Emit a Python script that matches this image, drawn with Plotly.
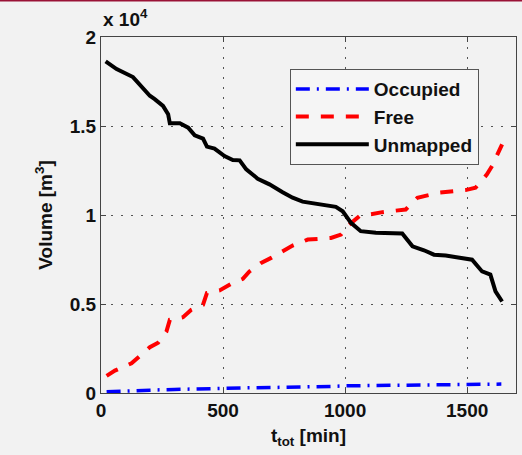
import plotly.graph_objects as go

# Elapsed time [min] and volumes [m^3] for each map category
t_unmapped = [19, 64, 131, 200, 220, 254, 275, 282, 323, 357, 384, 418, 434, 465,
              506, 540, 568, 595, 642, 690, 744, 785, 826, 867, 922, 962, 990,
              1024, 1064, 1126, 1234, 1276, 1323, 1364, 1412, 1466, 1520, 1561,
              1595, 1616, 1643]
v_unmapped = [18630, 18200, 17750, 16700, 16510, 16130, 15660, 15150, 15150,
              14910, 14480, 14290, 13840, 13730, 13310, 13090, 13070, 12560,
              12040, 11720, 11280, 10970, 10750, 10650, 10540, 10460, 10210,
              9560, 9090, 9000, 8960, 8240, 8020, 7770, 7720, 7590, 7490, 6830,
              6650, 5710, 5140]

t_free = [23, 57, 125, 152, 200, 234, 268, 282, 336, 370, 418, 434, 486, 534,
          581, 608, 656, 697, 744, 785, 847, 881, 942, 983, 1017, 1058, 1153,
          1248, 1296, 1384, 1439, 1493, 1534, 1581, 1602, 1643]
v_free = [960, 1260, 1670, 2010, 2570, 2830, 3450, 4110, 4260, 4680, 4960, 5620,
          5760, 6140, 6410, 6830, 7310, 7590, 7960, 8280, 8620, 8660, 8710, 8900,
          9460, 9930, 10160, 10310, 10970, 11250, 11340, 11400, 11530, 12280,
          12750, 13970]

t_occupied = [23, 100, 200, 300, 400, 500, 600, 700, 800, 900, 950, 1000, 1100,
              1200, 1300, 1400, 1500, 1600, 1640]
v_occupied = [70, 120, 160, 200, 240, 270, 290, 310, 320, 340, 370, 400, 420,
              440, 460, 470, 480, 500, 500]

y_ticks = [0, 5000, 10000, 15000, 20000]
y_tick_text = ["0", "0.5", "1", "1.5", "2"]
x_ticks = [0, 500, 1000, 1500]

FONT = "Liberation Sans"
BG = "#f2f2f2"

fig = go.Figure()
fig.add_trace(go.Scatter(
    x=t_occupied, y=v_occupied, mode="lines", name="Occupied",
    line=dict(color="#0000ff", width=3.5, dash="14px,7px,2px,7px"),
))
fig.add_trace(go.Scatter(
    x=t_free, y=v_free, mode="lines", name="Free",
    line=dict(color="#ff0000", width=4, dash="13px,12px"),
))
fig.add_trace(go.Scatter(
    x=t_unmapped, y=v_unmapped, mode="lines", name="Unmapped",
    line=dict(color="#000000", width=4),
))

axis_common = dict(
    showline=True, linecolor="#444444", linewidth=1, mirror="ticks",
    ticks="inside", ticklen=5, tickcolor="#444444",
    showgrid=True, gridcolor="#555555", gridwidth=1, griddash="2px,8px",
    zeroline=False,
    tickfont=dict(family=FONT, size=19, color="#111111", weight="bold"),
)

fig.update_xaxes(
    range=[0, 1700], tickvals=x_ticks,
    title=dict(text="t<sub>tot</sub> [min]", standoff=8,
               font=dict(family=FONT, size=19, color="#111111", weight="bold")),
    **axis_common,
)
fig.update_yaxes(
    range=[0, 20000], tickvals=y_ticks, ticktext=y_tick_text,
    title=dict(text="Volume [m<sup>3</sup>]", standoff=12,
               font=dict(family=FONT, size=19, color="#111111", weight="bold")),
    **axis_common,
)

fig.add_annotation(
    xref="paper", yref="paper", x=0, y=1, xanchor="left", yanchor="bottom",
    yshift=5, showarrow=False, text="x 10<sup>4</sup>",
    font=dict(family=FONT, size=19, color="#111111", weight="bold"),
)

# thin accent strip along the top edge of the page
fig.add_shape(type="rect", xref="paper", yref="paper", x0=-0.25, x1=1.05,
              y0=1.1, y1=1.115, fillcolor="#9a1236", line_width=0, layer="below")

fig.update_layout(
    width=522, height=455,
    margin=dict(l=101, r=6, t=37, b=62),
    paper_bgcolor=BG, plot_bgcolor=BG,
    font=dict(family=FONT, color="#111111"),
    legend=dict(
        x=0.455, y=0.91, xanchor="left", yanchor="top",
        bgcolor="#f5f5f5", bordercolor="#555555", borderwidth=1,
        font=dict(family=FONT, size=19, color="#111111", weight="bold"),
        itemwidth=73, tracegroupgap=0,
    ),
)

fig.write_html("out.html")
